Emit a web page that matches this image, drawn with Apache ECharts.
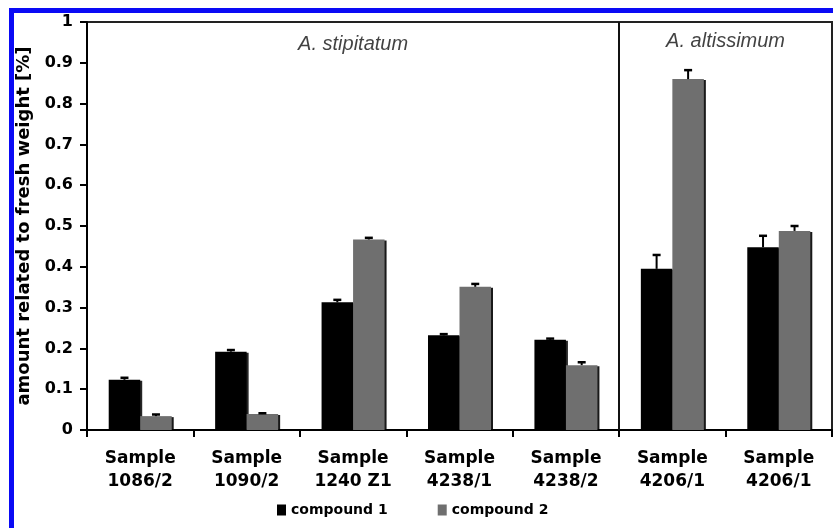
<!DOCTYPE html>
<html>
<head>
<meta charset="utf-8">
<script src="https://cdn.jsdelivr.net/npm/echarts@6/dist/echarts.min.js"></script>
<style>
html,body{margin:0;padding:0;background:#fff;}
#chart{width:833px;height:528px;}
</style>
</head>
<body>
<div id="chart"></div>
<script>
const categories = ['Sample\n1086/2','Sample\n1090/2','Sample\n1240 Z1','Sample\n4238/1','Sample\n4238/2','Sample\n4206/1','Sample\n4206/1'];
const compound1 = [0.123, 0.192, 0.313, 0.232, 0.221, 0.395, 0.448];
const compound1Err = [0.005, 0.004, 0.006, 0.003, 0.003, 0.034, 0.028];
const compound2 = [0.034, 0.039, 0.467, 0.351, 0.159, 0.860, 0.488];
const compound2Err = [0.004, 0.002, 0.004, 0.007, 0.007, 0.022, 0.012];
const yTicks = [0, 0.1, 0.2, 0.3, 0.4, 0.5, 0.6, 0.7, 0.8, 0.9, 1];
const groupLabels = ['A. stipitatum', 'A. altissimum'];
const groupCenters = [2.5, 6];
const groupLabelY = [0.945, 0.952];
const groupDivider = 5;

const BAR_FRAC = 0.296;
const FONT = 'DejaVu Sans';

function errRender(side) {
  return function (params, api) {
    const cw = api.size([1, 0])[0];
    const off = side * cw * BAR_FRAC / 2;
    const p0 = api.coord([api.value(0), api.value(1)]);
    const p1 = api.coord([api.value(0), api.value(2)]);
    const x = p0[0] + off;
    const st = { stroke: '#000', lineWidth: 2 };
    return {
      type: 'group',
      children: [
        { type: 'line', shape: { x1: x, y1: p0[1], x2: x, y2: p1[1] }, style: st },
        { type: 'line', shape: { x1: x - 4, y1: p1[1], x2: x + 4, y2: p1[1] }, style: { stroke: '#000', lineWidth: 2.5 } }
      ]
    };
  };
}

const chart = echarts.init(document.getElementById('chart'));
chart.setOption({
  animation: false,
  backgroundColor: '#fff',
  graphic: [
    { type: 'rect', left: 9, top: 8, shape: { width: 830, height: 5 }, style: { fill: '#0a0af5' }, z: 100 },
    { type: 'rect', left: 9, top: 8, shape: { width: 5, height: 530 }, style: { fill: '#0a0af5' }, z: 100 }
  ],
  grid: { left: 87, top: 22, right: 1, bottom: 98, show: true, borderColor: '#222', borderWidth: 2, backgroundColor: 'transparent' },
  legend: {
    data: ['compound 1', 'compound 2'],
    left: 272, top: 498,
    itemWidth: 9, itemHeight: 11, itemGap: 50,
    icon: 'rect',
    textStyle: { fontFamily: FONT, fontWeight: 'bold', fontSize: 14, color: '#000' }
  },
  xAxis: [
    {
      type: 'category', data: categories,
      axisLine: { lineStyle: { color: '#000', width: 2 } },
      axisTick: { show: true, length: 7, lineStyle: { color: '#000', width: 2 } },
      axisLabel: { fontFamily: FONT, fontWeight: 'bold', fontSize: 17, lineHeight: 23, color: '#000', margin: 17, interval: 0 }
    },
    { type: 'value', min: 0, max: 7, show: false }
  ],
  yAxis: {
    type: 'value', min: 0, max: 1, interval: 0.1,
    name: 'amount related to fresh weight [%]',
    nameLocation: 'middle', nameGap: 52, nameRotate: 90,
    nameTextStyle: { fontFamily: FONT, fontWeight: 'bold', fontSize: 18, color: '#000' },
    axisLine: { show: true, lineStyle: { color: '#000', width: 2 } },
    axisTick: { show: true, length: 7, lineStyle: { color: '#000', width: 2 } },
    splitLine: { show: false },
    axisLabel: {
      fontFamily: FONT, fontWeight: 'bold', fontSize: 16, color: '#000', margin: 14,
      formatter: v => { const t = yTicks.find(k => Math.abs(k - v) < 1e-6); return t === undefined ? '' : String(t); }
    }
  },
  series: [
    {
      name: 'compound 1', type: 'bar', data: compound1, barWidth: (BAR_FRAC * 100) + '%', barGap: '0%',
      itemStyle: { color: '#000', shadowColor: 'rgba(0,0,0,0.85)', shadowOffsetX: 2, shadowOffsetY: 1, shadowBlur: 0 }
    },
    {
      name: 'compound 2', type: 'bar', data: compound2, barWidth: (BAR_FRAC * 100) + '%', barGap: '0%',
      itemStyle: { color: '#6f6f6f', shadowColor: 'rgba(0,0,0,0.9)', shadowOffsetX: 2, shadowOffsetY: 1, shadowBlur: 0 }
    },
    {
      type: 'custom', name: 'err1', renderItem: errRender(-1), z: 5,
      encode: { x: 0, y: [1, 2] },
      data: compound1.map((v, i) => [i, v, v + compound1Err[i]])
    },
    {
      type: 'custom', name: 'err2', renderItem: errRender(1), z: 5,
      encode: { x: 0, y: [1, 2] },
      data: compound2.map((v, i) => [i, v, v + compound2Err[i]])
    },
    {
      type: 'scatter', xAxisIndex: 1, symbolSize: 1, silent: true,
      itemStyle: { color: 'transparent' },
      data: groupLabels.map((t, i) => [groupCenters[i], groupLabelY[i], t]),
      label: {
        show: true, position: 'inside', formatter: p => p.value[2],
        fontFamily: 'Liberation Sans', fontStyle: 'italic', fontSize: 20, color: '#111'
      },
      markLine: {
        silent: true, symbol: 'none', animation: false,
        label: { show: false },
        lineStyle: { color: '#111', width: 2, type: 'solid' },
        data: [{ xAxis: groupDivider }]
      }
    }
  ]
});
</script>
</body>
</html>
